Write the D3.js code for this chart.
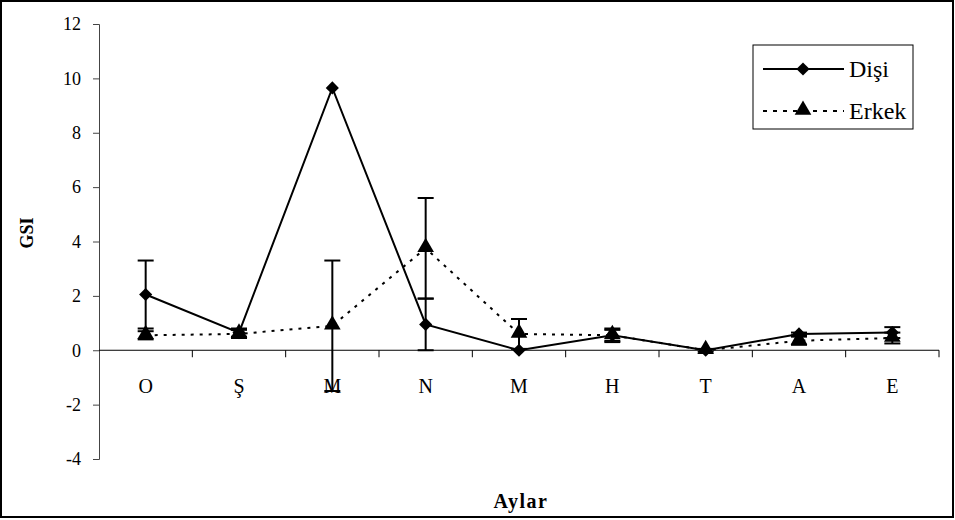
<!DOCTYPE html>
<html>
<head>
<meta charset="utf-8">
<script src="https://cdn.jsdelivr.net/npm/d3@7/dist/d3.min.js"></script>
<style>
  body { margin: 0; background: #fff; }
  svg text { font-family: "Liberation Serif", "Times New Roman", serif; }
</style>
</head>
<body>
<svg width="955" height="520" font-family="Liberation Serif"></svg>
<script>
// Months (category labels)
var months = ["O", "Ş", "M", "N", "M ", "H", "T", "A", "E"];
// Dişi (female) GSI and error
var disi = [2.05, 0.65, 9.65, 0.95, 0.0, 0.55, 0.0, 0.6, 0.65];
var disiErr = [1.25, 0.15, 0, 0.95, 0, 0.2, 0, 0.05, 0.2];
// Erkek (male) GSI and error
var erkek = [0.55, 0.6, 0.9, 3.75, 0.6, 0.55, 0.0, 0.35, 0.45];
var erkekErr = [0.15, 0.15, 2.4, 1.85, 0.55, 0.25, 0.05, 0.15, 0.2];
var yTicks = [-4, -2, 0, 2, 4, 6, 8, 10, 12];

var svg = d3.select('svg');

// outer frame
svg.append('rect')
  .attr('x', 1).attr('y', 1).attr('width', 952).attr('height', 516)
  .style('fill', 'none').style('stroke', '#000').style('stroke-width', 2);

var plot = {l: 99, r: 939, t: 24, b: 459};

var x = d3.scaleBand().domain(months).range([plot.l, plot.r]);
var y = d3.scaleLinear().domain([-4, 12]).range([plot.b, plot.t]);

function cx(i) { return x(months[i]) + x.bandwidth() / 2; }

// y axis
var yAxis = svg.append('g')
  .attr('transform', 'translate(' + plot.l + ',0)')
  .call(d3.axisLeft(y).tickValues(yTicks).tickSize(6).tickPadding(12)
    .tickFormat(function(d) { return String(d); }));
yAxis.attr('font-family', 'Liberation Serif');
yAxis.select('.domain').style('stroke', '#444');
yAxis.selectAll('line').style('stroke', '#444');
yAxis.selectAll('text').style('font-size', '18px').style('fill', '#000');

// x axis at zero with ticks on band boundaries
var zeroY = y(0);
svg.append('line')
  .attr('x1', plot.l).attr('x2', plot.r)
  .attr('y1', zeroY).attr('y2', zeroY)
  .style('stroke', '#000').style('stroke-width', 1);

var bounds = months.map(function(m) { return x(m); }).concat([plot.r]);
svg.selectAll('.xtick')
  .data(bounds.slice(1))
  .enter().append('line')
  .attr('class', 'xtick')
  .attr('x1', function(d) { return d; }).attr('x2', function(d) { return d; })
  .attr('y1', zeroY).attr('y2', zeroY + 7)
  .style('stroke', '#000');

svg.selectAll('.xlabel')
  .data(months)
  .enter().append('text')
  .attr('class', 'xlabel')
  .attr('x', function(d, i) { return cx(i); })
  .attr('y', 393)
  .attr('text-anchor', 'middle')
  .style('font-size', '20px')
  .text(function(d) { return d.trim(); });

// axis titles
svg.append('text')
  .attr('transform', 'translate(33,233) rotate(-90)')
  .attr('text-anchor', 'middle')
  .style('font-size', '18px').style('font-weight', 'bold')
  .text('GSI');

svg.append('text')
  .attr('x', 521).attr('y', 508)
  .attr('text-anchor', 'middle')
  .style('font-size', '20px').style('font-weight', 'bold')
  .style('letter-spacing', '1.5px')
  .text('Aylar');

// lines
var line = d3.line()
  .x(function(d, i) { return cx(i); })
  .y(function(d) { return y(d); });

svg.append('path').datum(erkek)
  .attr('d', line)
  .style('fill', 'none').style('stroke', '#000').style('stroke-width', 2)
  .style('stroke-dasharray', '3,6');

svg.append('path').datum(disi)
  .attr('d', line)
  .style('fill', 'none').style('stroke', '#000').style('stroke-width', 2);

// error bars
function errorBars(vals, errs, cls) {
  var g = svg.selectAll('.' + cls)
    .data(vals.map(function(v, i) { return {v: v, e: errs[i], i: i}; })
      .filter(function(d) { return d.e > 0; }))
    .enter().append('g').attr('class', cls);
  g.append('line')
    .attr('x1', function(d) { return cx(d.i); }).attr('x2', function(d) { return cx(d.i); })
    .attr('y1', function(d) { return y(d.v - d.e); })
    .attr('y2', function(d) { return y(d.v + d.e); })
    .style('stroke', '#000').style('stroke-width', 2);
  [1, -1].forEach(function(s) {
    g.append('line')
      .attr('x1', function(d) { return cx(d.i) - 8; })
      .attr('x2', function(d) { return cx(d.i) + 8; })
      .attr('y1', function(d) { return y(d.v + s * d.e); })
      .attr('y2', function(d) { return y(d.v + s * d.e); })
      .style('stroke', '#000').style('stroke-width', 2);
  });
}
errorBars(disi, disiErr, 'errD');
errorBars(erkek, erkekErr, 'errE');

var diamond = d3.symbol().type(d3.symbolDiamond2).size(110);
var triangle = d3.symbol().type(d3.symbolTriangle).size(120);

svg.selectAll('.tri')
  .data(erkek).enter().append('path')
  .attr('class', 'tri')
  .attr('d', triangle)
  .attr('transform', function(d, i) { return 'translate(' + cx(i) + ',' + (y(d) - 1) + ')'; })
  .style('fill', '#000');

svg.selectAll('.dia')
  .data(disi).enter().append('path')
  .attr('class', 'dia')
  .attr('d', diamond)
  .attr('transform', function(d, i) { return 'translate(' + cx(i) + ',' + y(d) + ')'; })
  .style('fill', '#000');

// legend
var lg = svg.append('g').attr('transform', 'translate(753,45)');
lg.append('rect')
  .attr('width', 160).attr('height', 84)
  .style('fill', '#fff').style('stroke', '#000').style('stroke-width', 1);
lg.append('line').attr('x1', 10).attr('x2', 91).attr('y1', 24).attr('y2', 24)
  .style('stroke', '#000').style('stroke-width', 2);
lg.append('path').attr('d', diamond).attr('transform', 'translate(50,24)');
lg.append('text').attr('x', 96).attr('y', 32).style('font-size', '24px').text('Dişi');
lg.append('line').attr('x1', 10).attr('x2', 91).attr('y1', 66).attr('y2', 66)
  .style('stroke', '#000').style('stroke-width', 2).style('stroke-dasharray', '4,6');
lg.append('path').attr('d', triangle).attr('transform', 'translate(50,65)');
lg.append('text').attr('x', 96).attr('y', 74).style('font-size', '24px')
  .text('Erkek');
</script>
</body>
</html>
